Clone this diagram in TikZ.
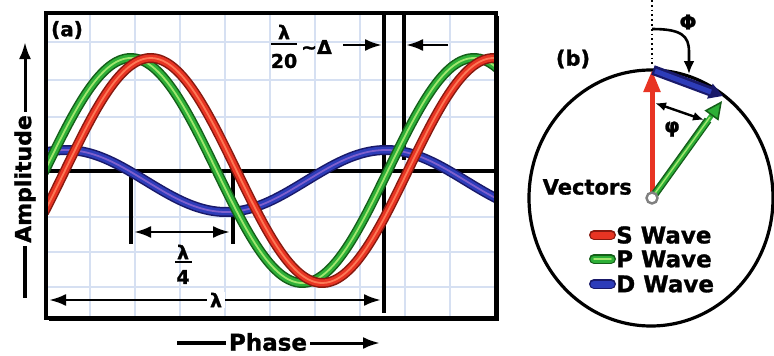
\documentclass[tikz,border=0pt]{standalone}
\usepackage{fontspec}
\setmainfont{DejaVu Sans}[BoldFeatures={FakeBold=1.2}]
\usetikzlibrary{arrows.meta}
\definecolor{gridc}{RGB}{214,224,242}
\definecolor{gdark}{RGB}{20,95,25}
\definecolor{gmid}{RGB}{45,175,55}
\definecolor{glight}{RGB}{160,230,110}
\definecolor{rdark}{RGB}{135,25,15}
\definecolor{rmid}{RGB}{232,52,35}
\definecolor{rlight}{RGB}{252,120,85}
\definecolor{bdark}{RGB}{25,25,105}
\definecolor{bmid}{RGB}{45,60,185}
\definecolor{blight}{RGB}{125,95,205}
\tikzset{
  gridline/.style={draw=gridc, line width=1.3pt},
  heavy/.style={draw=black, line width=3.2pt},
  thin/.style={draw=black, line width=2.2pt},
  dimarrow/.style={draw=black, line width=2.8pt, {Latex[length=17pt,width=12pt]}-{Latex[length=17pt,width=12pt]}},
  onearrow/.style={draw=black, line width=2.8pt, -{Latex[length=17pt,width=12pt]}},
  gwave/.style={draw=gdark, line width=10pt, postaction={draw=gmid, line width=7pt}, postaction={draw=glight, line width=1.8pt}},
  rwave/.style={draw=rdark, line width=10pt, postaction={draw=rmid, line width=7pt}, postaction={draw=rlight, line width=1.8pt}},
  bwave/.style={draw=bdark, line width=10pt, postaction={draw=bmid, line width=7pt}, postaction={draw=blight, line width=1.8pt}},
  lbl/.style={font=\fontsize{22}{24}\selectfont\bfseries, inner sep=0pt, text=black},
  fr/.style={font=\fontsize{19}{20}\selectfont\bfseries, inner sep=0pt, text=black},
  swatch/.style={line cap=round, line width=8pt}
}
\begin{document}
\begin{tikzpicture}[x=1pt,y=-1pt]
\useasboundingbox[fill=white] (0,0) rectangle (774,356);

% ---------- panel (a) ----------
\coordinate (FTL) at (46,13);
\coordinate (FBR) at (496,318);
\begin{scope}
\clip (FTL) rectangle (FBR);
\foreach \gx in {90,135,180,225,270,315,360,405,450}
  \draw[gridline] (\gx,13) -- (\gx,318);
\foreach \gy in {42,80,117,217,252,287}
  \draw[gridline] (46,\gy) -- (496,\gy);
\end{scope}

% axis and reference lines
\coordinate (AxL) at (46,171);
\coordinate (AxR) at (496,171);
\draw[heavy] (AxL) -- (AxR);
\coordinate (V1t) at (384,13);
\coordinate (V1b) at (384,313);
\coordinate (V2t) at (404,13);
\coordinate (V2b) at (404,160);
\draw[heavy] (V1t) -- (V1b);
\draw[heavy] (V2t) -- (V2b);

% quarter-wave markers
\coordinate (Q1t) at (131,171);
\coordinate (Q1b) at (131,244);
\coordinate (Q2t) at (233,171);
\coordinate (Q2b) at (233,244);
\draw[heavy] (Q1t) -- (Q1b);
\draw[heavy] (Q2t) -- (Q2b);
\coordinate (Qa) at (134,232);
\coordinate (Qb) at (230,232);
\draw[dimarrow] (Qa) -- (Qb);
\node[fr] (q4l) at (183,252) {λ};
\draw[thin] (175,262) -- (192,262);
\node[fr] (q4n) at (183,277) {4};

% full wavelength
\coordinate (La) at (49,300);
\coordinate (Lb) at (381,300);
\draw[dimarrow] (La) -- (Lb);
\node[fr, fill=white, inner xsep=3pt, inner ysep=1pt] (lam) at (216,300) {λ};

% lambda/20 marker
\node[fr] (t20l) at (284,32) {λ};
\draw[thin] (271,44) -- (297,44);
\node[fr] (t20n) at (284,61) {20};
\node[fr, anchor=west] (tdel) at (301,47) {∼Δ};
\coordinate (Da) at (343,45);
\coordinate (Db) at (382,45);
\draw[onearrow] (Da) -- (Db);
\coordinate (Ea) at (448,45);
\coordinate (Eb) at (406,45);
\draw[onearrow] (Ea) -- (Eb);

% waves
\begin{scope}
\clip (47,14) rectangle (495,317);
\draw[bwave] plot[domain=44:499, samples=120, smooth] (\x, {181-31*cos(1.125*(\x-66))});
\draw[gwave] plot[domain=44:499, samples=120, smooth] (\x, {170.5-112.5*sin(1.04956*(\x-45))});
\draw[rwave] plot[domain=44:499, samples=120, smooth] (\x, {170.5-112.5*sin(1.04956*(\x-65))});
\end{scope}

% frame
\draw[black, line width=3.4pt] (FTL) rectangle (FBR);
\draw[black, line width=1.8pt] (49,320) -- (498,320) -- (498,16);
\node[lbl, font=\fontsize{20}{22}\selectfont\bfseries] (alabel) at (67,30) {(a)};

% axis titles
\node[lbl, rotate=90] (amp) at (25,179) {Amplitude};
\coordinate (AmT) at (25,42);
\coordinate (AmB) at (25,298);
\draw[onearrow, line width=3pt] ([yshift=3pt]amp.east) -- (AmT);
\draw[heavy] ([yshift=-3pt]amp.west) -- (AmB);
\node[lbl, font=\fontsize{23}{24}\selectfont\bfseries] (phase) at (268,342) {Phase};
\coordinate (PhL) at (177,343);
\coordinate (PhR) at (380,343);
\draw[heavy] (PhL) -- ([xshift=-3pt]phase.west |- PhL);
\draw[onearrow, line width=3pt] ([xshift=3pt]phase.east |- PhR) -- (PhR);

% ---------- panel (b) ----------
\coordinate (O) at (652,198);
\coordinate (Stip) at (652,70);
\coordinate (Ptip) at (722,101);
\coordinate (Dtip) at (723,96);
\draw[black, line width=3.2pt] (651,198) ellipse [x radius=122, y radius=128];
\node[lbl, font=\fontsize{21}{22}\selectfont\bfseries] (blabel) at (573,59) {(b)};

\coordinate (Top) at (652,0);
\coordinate (Dot) at (652,66);
\draw[black, line width=2.6pt, dash pattern=on 1.8pt off 3pt] (Top) -- (Dot);
\node[lbl, font=\fontsize{20}{22}\selectfont\bfseries] (Phi) at (688,22) {Φ};
\coordinate (ArcS) at (652,29);
\coordinate (ArcE) at (689,74);
\draw[black, line width=2.6pt, -{Latex[length=13pt,width=11pt]}] (ArcS) .. controls (682,29) and (689,36) .. (689,52) -- (ArcE);

% vectors
\draw[draw=rmid, line width=5pt, -{Triangle[length=22pt,width=16pt]}] (O) -- (Stip);
\draw[draw=bdark, line width=10pt, -{Triangle[length=14pt,width=15pt]}] (653,70) -- (Dtip);
\draw[draw=bmid, line width=5pt] (655,71) -- (711,92);
\draw[draw=gdark, line width=8pt] (O) -- (708,120);
\draw[draw=gmid, line width=5pt, -{Triangle[length=18pt,width=17pt,color=gdark,fill=gmid,line width=1.5pt]}] (O) -- (Ptip);
\draw[draw=glight, line width=1.5pt] (653,196) -- (710,117);
\draw[gray, line width=2.4pt, fill=white] (O) circle (5.5);

\coordinate (phA) at (655,103);
\coordinate (phB) at (704,120);
\draw[black, line width=2.4pt, {Latex[length=11pt,width=9pt]}-{Latex[length=11pt,width=9pt]}] (phA) -- (phB);
\node[lbl, font=\fontsize{20}{22}\selectfont\bfseries] (phi) at (672,129) {φ};

\node[lbl, font=\fontsize{21}{22}\selectfont\bfseries, anchor=east] (vec) at (632,187) {Vectors};

% legend
\draw[swatch, draw=rdark, line width=10pt] (594,235) -- (611,235);
\draw[swatch, draw=rmid, line width=7pt] (594,235) -- (611,235);
\draw[swatch, draw=gdark, line width=10pt] (594,259) -- (611,259);
\draw[swatch, draw=gmid, line width=7pt] (594,259) -- (611,259);
\draw[swatch, draw=glight, line width=1.5pt] (594,259) -- (611,259);
\draw[swatch, draw=bdark, line width=10pt] (594,284) -- (611,284);
\draw[swatch, draw=bmid, line width=7pt] (594,284) -- (611,284);
\node[lbl, font=\fontsize{23}{24}\selectfont\bfseries, anchor=west] (sw) at (616,235) {S Wave};
\node[lbl, font=\fontsize{23}{24}\selectfont\bfseries, anchor=west] (pw) at (616,259) {P Wave};
\node[lbl, font=\fontsize{23}{24}\selectfont\bfseries, anchor=west] (dw) at (616,284) {D Wave};
\end{tikzpicture}
\end{document}
